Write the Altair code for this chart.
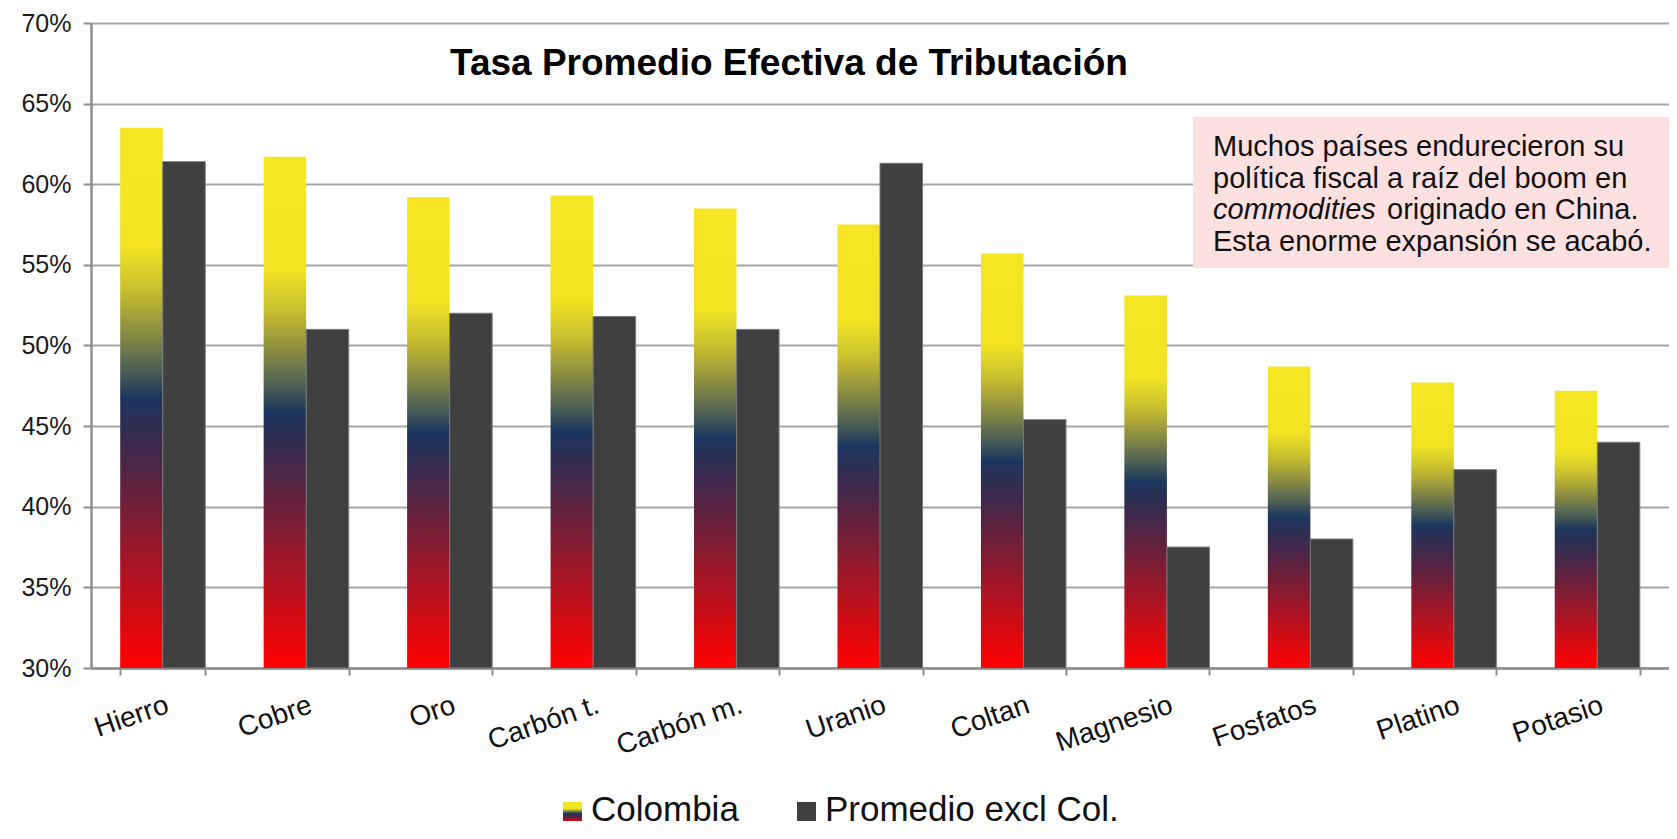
import altair as alt
import pandas as pd

# ---------------- data ----------------
categorias = ["Hierro", "Cobre", "Oro", "Carbón t.", "Carbón m.", "Uranio",
              "Coltan", "Magnesio", "Fosfatos", "Platino", "Potasio"]
colombia = [0.635, 0.617, 0.592, 0.593, 0.585, 0.575, 0.557, 0.531, 0.487, 0.477, 0.472]
promedio = [0.614, 0.510, 0.520, 0.518, 0.510, 0.613, 0.454, 0.375, 0.380, 0.423, 0.440]
series = ["Colombia", "Promedio excl Col."]
y_ticks = [0.30, 0.35, 0.40, 0.45, 0.50, 0.55, 0.60, 0.65, 0.70]
titulo = "Tasa Promedio Efectiva de Tributación"
nota_l1 = "Muchos países endurecieron su"
nota_l2 = "política fiscal a raíz del boom en"
nota_l3a = "commodities"
nota_l3b = "originado en China."
nota_l4 = "Esta enorme expansión se acabó."

FONT = "Liberation Sans"

rows = []
for c, a, b in zip(categorias, colombia, promedio):
    rows.append({"cat": c, "serie": series[0], "v": a})
    rows.append({"cat": c, "serie": series[1], "v": b})
df = pd.DataFrame(rows)

flag = alt.LinearGradient(
    gradient="linear", x1=0, x2=0, y1=0, y2=1,
    stops=[
        alt.GradientStop(color="#F5E625", offset=0.0),
        alt.GradientStop(color="#F2E424", offset=0.22),
        alt.GradientStop(color="#C9BF2F", offset=0.30),
        alt.GradientStop(color="#8A8C42", offset=0.38),
        alt.GradientStop(color="#4A5E55", offset=0.45),
        alt.GradientStop(color="#1B365E", offset=0.50),
        alt.GradientStop(color="#362B50", offset=0.57),
        alt.GradientStop(color="#5E2240", offset=0.66),
        alt.GradientStop(color="#901A2D", offset=0.76),
        alt.GradientStop(color="#C40F1A", offset=0.87),
        alt.GradientStop(color="#FF0000", offset=1.0),
    ],
)

W, H = 1578, 645
TOP = 15

x_enc = alt.X("cat:N", sort=categorias,
              scale=alt.Scale(paddingInner=0.407, paddingOuter=0.2035),
              axis=alt.Axis(title=None, tickBand="extent", labelAngle=-19,
                            labelAlign="right", labelBaseline="top",
                            labelPadding=16, labelFontSize=28, labelFont=FONT,
                            labelColor="#111111", tickSize=7, tickWidth=2,
                            tickColor="#8c8c8c", domainColor="#8c8c8c",
                            domainWidth=2.5, grid=False))
xo_enc = alt.XOffset("serie:N", scale=alt.Scale(domain=series, paddingInner=0, paddingOuter=0))
y_enc = alt.Y("v:Q", scale=alt.Scale(domain=[0.30, 0.70], zero=False, nice=False),
              axis=alt.Axis(title=None, values=y_ticks, format=".0%",
                            labelFontSize=25, labelFont=FONT, labelColor="#1a1a1a",
                            labelPadding=12, tickSize=8, tickWidth=2,
                            tickColor="#8c8c8c", domainColor="#8c8c8c",
                            domainWidth=2.5, grid=True, gridColor="#a6a6a6",
                            gridWidth=2))

base = alt.Chart(df)
bars_col = base.transform_filter(alt.datum.serie == series[0]).mark_bar(color=flag).encode(
    x=x_enc, xOffset=xo_enc, y=y_enc, y2=alt.datum(0.30))
bars_avg = base.transform_filter(alt.datum.serie == series[1]).mark_bar(
    color="#404040", stroke="#7a7a7a", strokeWidth=1).encode(
    x=x_enc, xOffset=xo_enc, y=y_enc, y2=alt.datum(0.30))

one = pd.DataFrame({"a": [0]})

title_mark = alt.Chart(one).mark_text(
    text=titulo, font=FONT, fontSize=37, fontWeight="bold", color="#000000",
    align="center", baseline="alphabetic").encode(x=alt.value(698), y=alt.value(52))

box = alt.Chart(one).mark_rect(color="#FDE1E1").encode(
    x=alt.value(1102), x2=alt.value(W), y=alt.value(94), y2=alt.value(245))

def note(txt, x, y, italic=False):
    kw = dict(text=txt, font=FONT, fontSize=29, color="#111111",
              align="left", baseline="alphabetic")
    if italic:
        kw["fontStyle"] = "italic"
    return alt.Chart(one).mark_text(**kw).encode(x=alt.value(x), y=alt.value(y))

notes = [
    note(nota_l1, 1122, 133),
    note(nota_l2, 1122, 164.5),
    note(nota_l3a, 1122, 196, italic=True),
    note(nota_l3b, 1296, 196),
    note(nota_l4, 1122, 227.5),
]

leg_sq1 = alt.Chart(one).mark_rect(color=alt.LinearGradient(
    gradient="linear", x1=0, x2=0, y1=0, y2=1,
    stops=[alt.GradientStop(color="#F5E625", offset=0.0),
           alt.GradientStop(color="#F2E424", offset=0.35),
           alt.GradientStop(color="#1B365E", offset=0.6),
           alt.GradientStop(color="#5E2240", offset=0.8),
           alt.GradientStop(color="#E00010", offset=1.0)])).encode(
    x=alt.value(472), x2=alt.value(491), y=alt.value(779), y2=alt.value(798))
leg_sq2 = alt.Chart(one).mark_rect(color="#404040").encode(
    x=alt.value(706), x2=alt.value(725), y=alt.value(779), y2=alt.value(798))
leg_t1 = alt.Chart(one).mark_text(text=series[0], font=FONT, fontSize=35, color="#111111",
                                  align="left", baseline="middle").encode(
    x=alt.value(500), y=alt.value(787))
leg_t2 = alt.Chart(one).mark_text(text=series[1], font=FONT, fontSize=35, color="#111111",
                                  align="left", baseline="middle").encode(
    x=alt.value(734), y=alt.value(787))

chart = alt.layer(
    bars_col, bars_avg, box, *notes, title_mark, leg_sq1, leg_sq2, leg_t1, leg_t2
).properties(
    width=W, height=H,
    padding={"left": 83, "top": TOP, "right": 0, "bottom": 163},
    autosize=alt.AutoSizeParams(type="none"),
    background="white",
).configure_view(stroke=None)

chart.save("out.html", embed_options={"renderer": "svg", "actions": False})
